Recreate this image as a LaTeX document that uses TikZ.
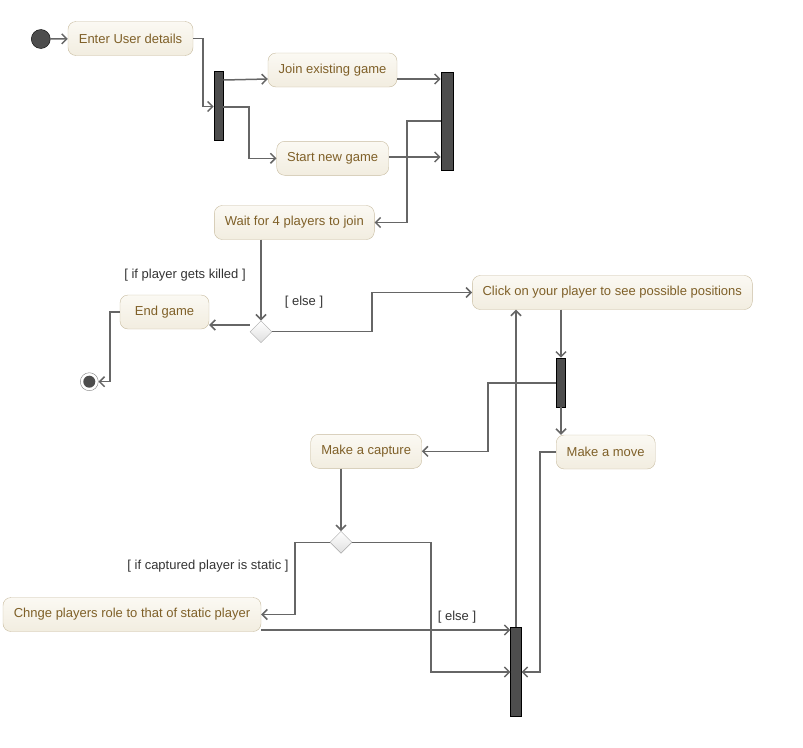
\documentclass[tikz,border=0pt]{standalone}
\usepackage{fontspec}
\setmainfont{Liberation Sans}
\usetikzlibrary{shapes.geometric,arrows.meta}
\definecolor{actfill}{RGB}{242,237,224}
\definecolor{acttop}{RGB}{251,249,243}
\definecolor{actline}{RGB}{200,188,160}
\definecolor{acttext}{RGB}{127,96,40}
\definecolor{barfill}{RGB}{77,77,77}
\definecolor{linegray}{RGB}{102,102,102}
\begin{document}
\begin{tikzpicture}[x=1pt,y=-1pt,
  act/.style={draw=actline, rounded corners=8pt, top color=acttop, bottom color=actfill, text=acttext, minimum height=34pt, inner sep=0pt, font=\fontsize{13}{15}\selectfont},
  bar/.style={draw=black, fill=barfill, inner sep=0pt, line width=0.6pt},
  choice/.style={diamond, draw=gray!70, top color=white, bottom color=gray!25, inner sep=0pt, minimum size=22pt},
  flow/.style={draw=linegray, line width=1.5pt, -{Straight Barb[length=5pt,width=10pt]}},
  guard/.style={text=black!80, font=\fontsize{13}{15}\selectfont}]
  \useasboundingbox (0,0) rectangle (803,747);

  % activities
  \node[act, minimum width=125pt] (enter) at (130.5,38.5) {Enter User details};
  \node[act, minimum width=129pt] (join) at (332.5,70) {Join existing game};
  \node[act, minimum width=112pt] (start) at (332.7,158.3) {Start new game};
  \node[act, minimum width=160pt] (wait) at (294.3,222.5) {Wait for 4 players to join};
  \node[act, minimum width=89pt] (endg) at (164.5,312) {End game};
  \node[act, minimum width=280pt] (click) at (612.3,292.5) {Click on your player to see possible positions};
  \node[act, minimum width=111pt] (capture) at (366.2,451.3) {Make a capture};
  \node[act, minimum width=99pt] (move) at (605.7,452) {Make a move};
  \node[act, minimum width=258pt] (chnge) at (132,614.5) {Chnge players role to that of static player};

  % bars, decisions, start and end
  \node[bar, minimum width=9pt, minimum height=69pt] (bar1) at (218.5,105.5) {};
  \node[bar, minimum width=12pt, minimum height=98pt] (bar2) at (447,121) {};
  \node[bar, minimum width=9.5pt, minimum height=49pt] (bar3) at (561,382.5) {};
  \node[bar, minimum width=10.6pt, minimum height=89pt] (bar4) at (516,672) {};
  \node[choice] (d1) at (261,331.7) {};
  \node[choice] (d2) at (341,542.3) {};
  \node[circle, draw=black, fill=barfill, minimum size=19pt, inner sep=0pt] (init) at (40.8,39) {};
  \node[circle, draw=gray, fill=white, minimum size=18pt, inner sep=0pt] (final) at (89.3,381.7) {};
  \fill[barfill] (final) circle (6pt);

  % guards
  \node[guard] (gkill) at (185,275) {[ if player gets killed ]};
  \node[guard] (gelse1) at (304,302) {[ else ]};
  \node[guard] (gstatic) at (208,566) {[ if captured player is static ]};
  \node[guard] (gelse2) at (457,617) {[ else ]};

  % flows
  \draw[flow] (init) -- (enter);
  \draw[flow] (enter.east) -- (203,38.5) |- (bar1.west |- 0,106.5);
  \draw[flow] (bar1.east |- 0,80) -- (join.west |- 0,79);
  \draw[flow] (bar1.east |- 0,107) -- (249,107) |- (start.west);
  \draw[flow] (join.east |- 0,79) -- (bar2.west |- 0,79);
  \draw[flow] (start.east |- 0,157) -- (bar2.west |- 0,157);
  \draw[flow] (bar2.west |- 0,121) -- (407,121) |- (wait.east);
  \draw[flow] (d1.north |- wait.south) -- (d1.north);
  \draw[flow] (d1.west |- 0,325) -- (endg.east |- 0,325);
  \draw[flow] (endg.west) -- (110,312) |- (final.east);
  \draw[flow] (d1.east) -- (372,331.7) |- (click.west);
  \draw[flow] (bar3.north |- click.south) -- (bar3.north);
  \draw[flow] (bar3.south) -- (bar3.south |- move.north);
  \draw[flow] (bar3.west |- 0,383) -- (488,383) |- (capture.east);
  \draw[flow] (d2.north |- capture.south) -- (d2.north);
  \draw[flow] (d2.west) -- (295,542.3) |- (chnge.east);
  \draw[flow] (chnge.east |- 0,630) -- (bar4.west |- 0,630);
  \draw[flow] (d2.east) -- (431,542.3) |- (bar4.west);
  \draw[flow] (move.west) -- (540,452) |- (bar4.east);
  \draw[flow] (bar4.north) -- (bar4.north |- click.south);
\end{tikzpicture}
\end{document}
